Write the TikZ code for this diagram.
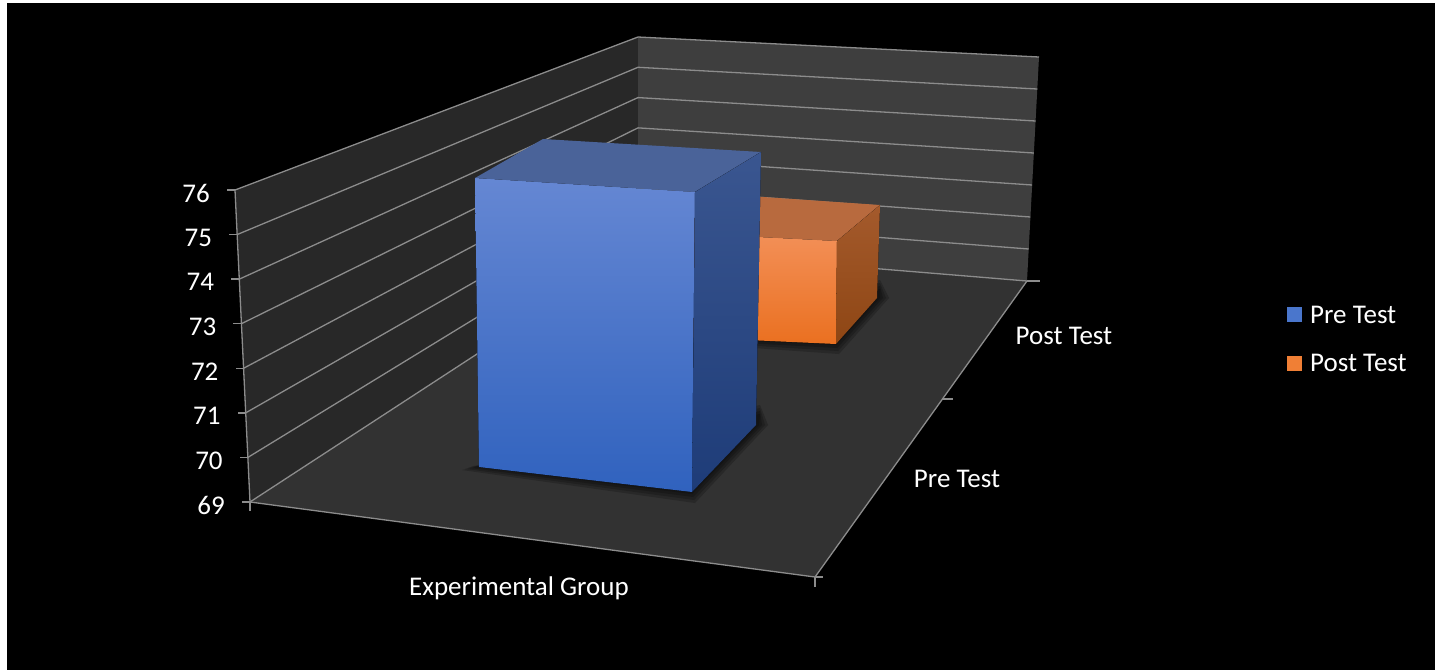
\documentclass[tikz,border=0pt]{standalone}
\usepackage{fontspec}
\setmainfont{Carlito}
\definecolor{leftwall}{HTML}{282828}
\definecolor{backwall}{HTML}{3E3E3E}
\definecolor{floorc}{HTML}{323232}
\definecolor{gridc}{HTML}{8C8C8C}
\definecolor{blueT}{HTML}{6587D3}
\definecolor{blueB}{HTML}{3062BE}
\definecolor{bluetop}{HTML}{4A6399}
\definecolor{bluesideT}{HTML}{3A5690}
\definecolor{bluesideB}{HTML}{1E3C78}
\definecolor{orT}{HTML}{F39058}
\definecolor{orB}{HTML}{EA7020}
\definecolor{ortop}{HTML}{B86A3E}
\definecolor{orsideT}{HTML}{A45A2C}
\definecolor{orsideB}{HTML}{8E4614}
\definecolor{legblue}{HTML}{4A76CC}
\definecolor{legor}{HTML}{F07F35}
\begin{document}
\begin{tikzpicture}[x=1pt,y=-1pt,
  font=\fontsize{27}{31}\selectfont,
  grid/.style={draw=gridc, line width=1.3pt},
  lbl/.style={text=white, inner sep=0pt},
  shade/.style={fill=black, fill opacity=0.2}]
\useasboundingbox (0,0) rectangle (1437,670);
\fill[white] (0,0) rectangle (1437,670);
\fill[black] (7,3) rectangle (1435,670);
% frame corners
\coordinate (LT) at (235,190);
\coordinate (LB) at (250,502);
\coordinate (BLT) at (638,37);
\coordinate (BLB) at (638,249);
\coordinate (BRT) at (1039,57);
\coordinate (BRB) at (1027,281);
\coordinate (FR) at (815,577);
\coordinate (DM) at (943,399);
% walls and floor
\fill[leftwall] (LT)--(BLT)--(BLB)--(LB)--cycle;
\fill[backwall] (BLT)--(BRT)--(BRB)--(BLB)--cycle;
\fill[floorc] (LB)--(BLB)--(BRB)--(FR)--cycle;
% gridlines, ticks, value labels
\foreach \i in {0,...,7} {
  \coordinate (F\i) at ({235+15*\i/7},{190+44.57*\i});
  \coordinate (W\i) at (638,{37+30.29*\i});
  \coordinate (R\i) at ({1039-12*\i/7},{57+32*\i});
  \draw[grid] (F\i) -- (W\i) -- (R\i);
  \draw[grid] (F\i) -- ++(-8,0);
  \pgfmathtruncatemacro{\v}{76-\i}
  \node[lbl, anchor=east] (v\i) at ([xshift=-25pt,yshift=-3pt]F\i) {\v};
}
% axes
\draw[grid] (LT) -- (LB);
\draw[grid] (LB) -- (FR) -- (BRB);
\draw[grid] (LB) -- ++(0,9);
\draw[grid] (FR) -- ++(0,10);
\draw[grid] (FR) -- ++(8,0);
\draw[grid] (DM) -- ++(10,0);
\draw[grid] (BRB) -- ++(13,0);
% soft shadows
\foreach \d in {10,7,4,1} {
  \fill[shade] ({650-\d},{336+0.4*\d})--({836+0.3*\d},{344+\d})--({879+\d},298)--({880},{290-\d})--cycle;
  \fill[shade] ({472-\d},{466+0.4*\d})--({692+0.3*\d},{493+\d})--({758+\d},{425})--({760},{415-\d})--cycle;
}
% orange bar (Post Test)
\fill[top color=orT, bottom color=orB] (660,232)--(837,241)--(836,344)--(660,336)--cycle;
\fill[ortop] (660,232)--(705,193)--(880,205)--(837,241)--cycle;
\fill[top color=orsideT, bottom color=orsideB] (837,241)--(880,205)--(877,298)--(836,344)--cycle;
% blue bar (Pre Test)
\fill[top color=blueT, bottom color=blueB] (475,178)--(695,192)--(692,492)--(479,467)--cycle;
\fill[bluetop] (475,178)--(543,139)--(761,152)--(695,192)--cycle;
\fill[top color=bluesideT, bottom color=bluesideB] (695,192)--(761,152)--(756,425)--(692,492)--cycle;
% category labels
\node[lbl] (cx) at (519,588) {Experimental Group};
\node[lbl] (cpre) at (957,479) {Pre Test};
\node[lbl] (cpost) at (1064,336) {Post Test};
% legend
\fill[legblue] (1287,307) rectangle (1302,322);
\fill[legor] (1287,356) rectangle (1302,371);
\node[lbl, anchor=west] (lpre) at (1310,315) {Pre Test};
\node[lbl, anchor=west] (lpost) at (1310,363) {Post Test};
\end{tikzpicture}
\end{document}
